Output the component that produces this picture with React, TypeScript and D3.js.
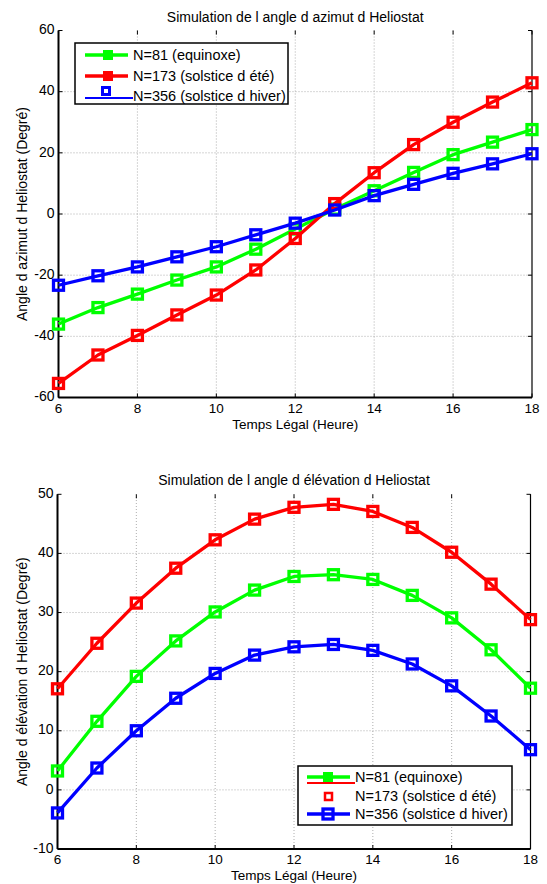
import * as d3 from 'd3';

const hours = [6, 7, 8, 9, 10, 11, 12, 13, 14, 15, 16, 17, 18];

// azimut (deg)
const azEquinoxe = [-36, -30.6, -26.2, -21.6, -17.3, -11.5, -4.9, 1.6, 7.6, 13.6, 19.4, 23.5, 27.6];
const azEte = [-55.4, -46.1, -39.7, -33.0, -26.5, -18.3, -8.0, 3.4, 13.5, 22.7, 30.0, 36.6, 42.9];
const azHiver = [-23.3, -20.2, -17.3, -14.0, -10.7, -6.8, -3.0, 1.3, 6.0, 9.7, 13.3, 16.4, 19.7];

// elevation (deg)
const elEquinoxe = [3.2, 11.6, 19.2, 25.2, 30.1, 33.8, 36.1, 36.4, 35.6, 32.9, 29.1, 23.7, 17.2];
const elEte = [17.1, 24.8, 31.6, 37.5, 42.3, 45.8, 47.8, 48.3, 47.1, 44.4, 40.2, 34.8, 28.8];
const elHiver = [-3.9, 3.7, 10.0, 15.5, 19.7, 22.8, 24.2, 24.6, 23.6, 21.3, 17.6, 12.5, 6.8];

const xTicks = [6, 8, 10, 12, 14, 16, 18];
const azTicks = [-60, -40, -20, 0, 20, 40, 60];
const elTicks = [-10, 0, 10, 20, 30, 40, 50];

const labels = ['N=81 (equinoxe)', 'N=173 (solstice d été)', 'N=356 (solstice d hiver)'];
const colors = ['#00ff00', '#ff0000', '#0000ff'];

const FONT = 'Liberation Sans, Arial, sans-serif';

type PanelProps = {
  series: number[][];
  yDomain: [number, number];
  yTicks: number[];
  xRange: [number, number];
  yRange: [number, number];
  title: string;
  ylabel: string;
};

const Panel = ({ series, yDomain, yTicks, xRange, yRange, title, ylabel }: PanelProps) => {
  const x = d3.scaleLinear([6, 18], xRange);
  const y = d3.scaleLinear(yDomain, yRange);
  const [x0, x1] = xRange;
  const [yb, yt] = yRange;
  const line = d3
    .line<number>()
    .x((_, i) => x(hours[i]))
    .y((d) => y(d));
  const tk = 4;

  return (
    <g fontFamily={FONT}>
      {/* grid */}
      {xTicks.slice(1, -1).map((t) => (
        <line key={'gx' + t} x1={x(t)} x2={x(t)} y1={yb} y2={yt} stroke="#999" strokeWidth={0.8} strokeDasharray="1,2" />
      ))}
      {yTicks.slice(1, -1).map((t) => (
        <line key={'gy' + t} x1={x0} x2={x1} y1={y(t)} y2={y(t)} stroke="#999" strokeWidth={0.8} strokeDasharray="1,2" />
      ))}
      {/* axes */}
      <line x1={x0} x2={x0} y1={yb} y2={yt} stroke="#000" strokeWidth={2} />
      <line x1={x0} x2={x1} y1={yb} y2={yb} stroke="#000" strokeWidth={2} />
      <line x1={x1} x2={x1} y1={yb} y2={yt} stroke="#000" strokeWidth={1.2} />
      {xTicks.map((t) => (
        <g key={'tx' + t}>
          <line x1={x(t)} x2={x(t)} y1={yb} y2={yb - tk} stroke="#000" />
          <line x1={x(t)} x2={x(t)} y1={yt} y2={yt + tk} stroke="#000" />
          <text x={x(t)} y={yb + 15} fontSize={13.5} textAnchor="middle">
            {t}
          </text>
        </g>
      ))}
      {yTicks.map((t) => (
        <g key={'ty' + t}>
          <line x1={x0} x2={x0 + tk} y1={y(t)} y2={y(t)} stroke="#000" />
          <line x1={x1} x2={x1 - tk} y1={y(t)} y2={y(t)} stroke="#000" />
          <text x={x0 - 4} y={y(t)} fontSize={14} textAnchor="end" dominantBaseline="middle">
            {t}
          </text>
        </g>
      ))}
      {/* series */}
      {series.map((s, si) => (
        <g key={'s' + si}>
          <path d={line(s) || ''} fill="none" stroke={colors[si]} strokeWidth={3.3} strokeLinejoin="round" />
          {s.map((v, i) => (
            <rect
              key={i}
              x={x(hours[i]) - 5}
              y={y(v) - 5}
              width={10}
              height={10}
              fill="none"
              stroke={colors[si]}
              strokeWidth={3.3}
            />
          ))}
        </g>
      ))}
      {/* labels */}
      <text x={(x0 + x1) / 2} y={yt - 9} fontSize={14} textAnchor="middle">
        {title}
      </text>
      <text x={(x0 + x1) / 2} y={yb + 31} fontSize={13.5} textAnchor="middle">
        Temps Légal (Heure)
      </text>
      <text
        transform={`translate(27,${(yb + yt) / 2}) rotate(-90)`}
        fontSize={14}
        textAnchor="middle"
      >
        {ylabel}
      </text>
    </g>
  );
};

const App = () => {
  return (
    <svg
      width={547}
      height={884}
      style={{ position: 'absolute', left: 0, top: 0, background: '#fff' }}
      fontFamily={FONT}
    >
      <rect width={547} height={884} fill="#fff" />
      <Panel
        series={[azEquinoxe, azEte, azHiver]}
        yDomain={[-60, 60]}
        yTicks={azTicks}
        xRange={[58.5, 532]}
        yRange={[397.5, 30.5]}
        title="Simulation de l angle d azimut d Heliostat"
        ylabel="Angle d azimut d Heliostat (Degré)"
      />
      <Panel
        series={[elEquinoxe, elEte, elHiver]}
        yDomain={[-10, 50]}
        yTicks={elTicks}
        xRange={[57.5, 530.5]}
        yRange={[849, 494.3]}
        title="Simulation de l angle d élévation d Heliostat"
        ylabel="Angle d élévation d Heliostat (Degré)"
      />

      {/* top legend */}
      <g fontSize={14.5}>
        <rect x={75} y={43} width={213} height={61} fill="#fff" stroke="#000" strokeWidth={1.5} />
        <line x1={85} x2={128} y1={55} y2={55} stroke={colors[0]} strokeWidth={3.3} />
        <rect x={103} y={50} width={10} height={10} fill={colors[0]} />
        <text x={133} y={56} dominantBaseline="middle">{labels[0]}</text>
        <line x1={85} x2={128} y1={76} y2={76} stroke={colors[1]} strokeWidth={3.3} />
        <rect x={103} y={71} width={10} height={10} fill={colors[1]} />
        <text x={133} y={77} dominantBaseline="middle">{labels[1]}</text>
        <line x1={85} x2={133} y1={98} y2={98} stroke={colors[2]} strokeWidth={2} />
        <rect x={102.5} y={87.5} width={7} height={7} fill="#fff" stroke={colors[2]} strokeWidth={3} />
        <text x={133} y={97} dominantBaseline="middle">{labels[2]}</text>
      </g>

      {/* bottom legend */}
      <g fontSize={14.5}>
        <rect x={298} y={766} width={214} height={59} fill="#fff" stroke="#000" strokeWidth={1.5} />
        <line x1={307} x2={350} y1={777} y2={777} stroke={colors[0]} strokeWidth={3.3} />
        <rect x={323} y={772} width={10} height={10} fill={colors[0]} />
        <line x1={307} x2={355} y1={783} y2={783} stroke={colors[1]} strokeWidth={2} />
        <text x={355} y={778} dominantBaseline="middle">{labels[0]}</text>
        <rect x={325} y={793} width={7} height={7} fill="#fff" stroke={colors[1]} strokeWidth={2.5} />
        <text x={355} y={797} dominantBaseline="middle">{labels[1]}</text>
        <line x1={307} x2={350} y1={814} y2={814} stroke={colors[2]} strokeWidth={3.3} />
        <rect x={323} y={809} width={10} height={10} fill="none" stroke={colors[2]} strokeWidth={3.3} />
        <text x={355} y={815} dominantBaseline="middle">{labels[2]}</text>
      </g>
    </svg>
  );
};

export default App;
